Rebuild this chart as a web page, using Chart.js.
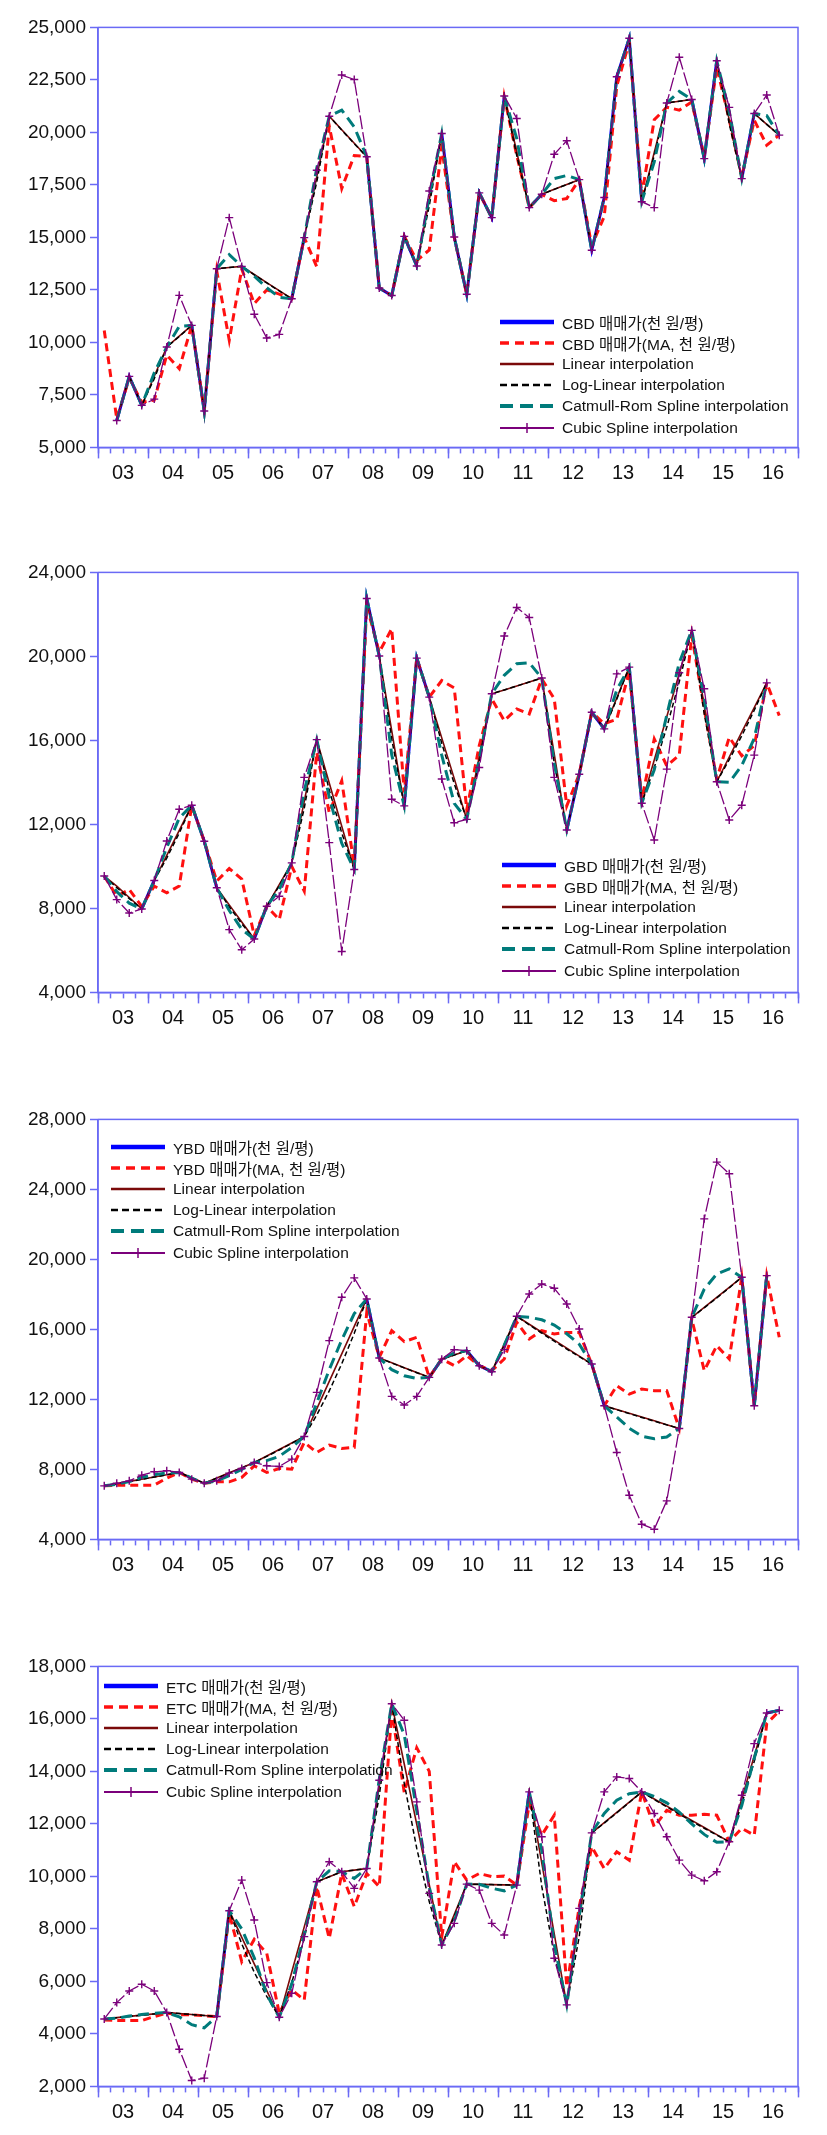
<!DOCTYPE html>
<html>
<head>
<meta charset="utf-8">
<script src="https://cdn.jsdelivr.net/npm/chart.js@4.4.1/dist/chart.umd.min.js"></script>
<style>
  body { margin: 0; background: #fff; width: 827px; height: 2135px; position: relative; overflow: hidden;
         font-family: "Liberation Sans", Arial, "Noto Sans CJK KR", sans-serif; }
  .panel { position: absolute; left: 0; width: 827px; height: 475px; }
  .legend { position: absolute; font-size: 15.5px; color: #111; }
  .legend .row { display: flex; align-items: center; height: 21.2px; white-space: nowrap; }
  .legend svg { margin-right: 8px; flex: none; }
</style>
</head>
<body>
<script>
const YEAR_LABELS = ['03', '04', '05', '06', '07', '08', '09', '10', '11', '12', '13', '14', '15', '16'];
const N_QUARTERS = 56; // 2003Q1 .. 2016Q4

// ---- CBD ----
const cbdActual = [
  null, 6280, 8380, 7000, null, 9780, null, 10810,
  6730, 13510, null, 13620, null, null, null, 12080,
  14990, null, 20770, null, null, 18840, 12590, 12230,
  15050, 13640, null, 19950, 15020, 12290, 17120, 15940,
  21730, null, 16420, 17055, null, null, 17750, 14390,
  16900, 22650, 24480, 16700, null, 21400, null, 21570,
  18750, 23410, null, 17800, 20900, null, 19870, null
];
const cbdMA = [
  10570, 6360, 8300, 7150, 7250, 9400, 8750, 10800,
  6750, 13400, 10100, 13500, 11850, 12500, 12300, 12080,
  15000, 13600, 20300, 17330, 18900, 18850, 12600, 12230,
  15050, 13900, 14400, 19300, 15000, 12290, 17120, 15940,
  21700, 18900, 16420, 17050, 16750, 16850, 17750, 14600,
  16000, 22200, 24300, 17000, 20600, 21200, 21060, 21450,
  18840, 23100, 20600, 17880, 20580, 19390, 19870, null
];
const cbdLinear = [
  null, 6280, 8380, 7000, 8390, 9780, 10300, 10810,
  6730, 13510, 13570, 13620, 13235, 12850, 12465, 12080,
  14990, 17880, 20770, 20125, 19480, 18840, 12590, 12230,
  15050, 13640, 16790, 19950, 15020, 12290, 17120, 15940,
  21730, 19070, 16420, 17055, 17290, 17520, 17750, 14390,
  16900, 22650, 24480, 16700, 19050, 21400, 21480, 21570,
  18750, 23410, 20600, 17800, 20900, 20380, 19870, null
];
const cbdLogLinear = [
  null, 6280, 8380, 7000, 8270, 9780, 10280, 10810,
  6730, 13510, 13565, 13620, 13220, 12830, 12450, 12080,
  14990, 17640, 20770, 20110, 19460, 18840, 12590, 12230,
  15050, 13640, 16500, 19950, 15020, 12290, 17120, 15940,
  21730, 18890, 16420, 17055, 17285, 17515, 17750, 14390,
  16900, 22650, 24480, 16700, 18900, 21400, 21485, 21570,
  18750, 23410, 20410, 17800, 20900, 20380, 19870, null
];
const cbdCatmull = [
  null, 6280, 8380, 7000, 8550, 9780, 10760, 10810,
  6730, 13510, 14180, 13620, 13150, 12600, 12150, 12080,
  14990, 18300, 20770, 21060, 20260, 18840, 12590, 12230,
  15050, 13640, 16950, 19950, 15020, 12290, 17120, 15940,
  21730, 19700, 16420, 17055, 17800, 17950, 17750, 14390,
  16900, 22650, 24480, 16700, 18600, 21400, 21950, 21570,
  18750, 23410, 21000, 17800, 20900, 20800, 19870, null
];
const cbdCubic = [
  null, 6280, 8380, 7000, 7300, 9780, 12240, 10810,
  6730, 13510, 15940, 13620, 11340, 10210, 10380, 12080,
  14990, 18200, 20770, 22730, 22520, 18840, 12590, 12230,
  15050, 13640, 17210, 19950, 15020, 12290, 17120, 15940,
  21730, 20660, 16420, 17055, 18960, 19600, 17750, 14390,
  16900, 22650, 24480, 16700, 16420, 21400, 23580, 21570,
  18750, 23410, 21190, 17800, 20900, 21780, 19870, null
];

// ---- GBD ----
const gbdActual = [
  9540, null, null, 7975, 9330, null, null, 12910,
  11200, 8980, null, null, 6540, 8100, null, 10170,
  null, 16035, null, null, 9854, 22760, 20020, null,
  12880, 19920, 18060, null, null, 12240, null, 18220,
  null, null, null, 18970, null, 11730, 14390, 17340,
  16550, null, 19490, 13010, null, null, null, 21240,
  null, 14030, null, null, null, 18740, null, null
];
const gbdMA = [
  9540, 8580, 8900, 8100, 9060, 8740, 9060, 12900,
  11200, 9300, 9900, 9400, 6700, 8100, 7470, 10000,
  8820, 15430, 12560, 14080, 10000, 22400, 20200, 21320,
  13520, 19920, 18060, 18850, 18500, 12700, 15750, 17980,
  16940, 17500, 17260, 18930, 17980, 12880, 14390, 17340,
  16800, 17000, 19300, 13200, 16070, 14790, 15300, 21000,
  17500, 14150, 16150, 15270, 15750, 18740, 17180, null
];
const gbdLinear = [
  9540, 9062, 8518, 7975, 9330, 10524, 11718, 12910,
  11200, 8980, 8167, 7354, 6540, 8100, 9135, 10170,
  13100, 16035, 13975, 11915, 9854, 22760, 20020, 16450,
  12880, 19920, 18060, 16120, 14180, 12240, 15230, 18220,
  18400, 18590, 18780, 18970, 15350, 11730, 14390, 17340,
  16550, 18020, 19490, 13010, 15070, 17130, 19190, 21240,
  17640, 14030, 15210, 16390, 17560, 18740, null, null
];
const gbdLogLinear = [
  9540, 8987, 8466, 7975, 9330, 10396, 11585, 12910,
  11200, 8980, 8079, 7269, 6540, 8100, 9076, 10170,
  12770, 16035, 13635, 11594, 9854, 22760, 20020, 16058,
  12880, 19920, 18060, 15864, 13935, 12240, 14934, 18220,
  18404, 18590, 18778, 18970, 14917, 11730, 14390, 17340,
  16550, 17960, 19490, 13010, 14706, 16623, 18791, 21240,
  17263, 14030, 15084, 16217, 17435, 18740, null, null
];
const gbdCatmull = [
  9540, 8800, 8250, 7975, 9330, 10900, 12300, 12910,
  11200, 8980, 7900, 7000, 6540, 8100, 8900, 10170,
  13600, 16035, 13300, 11100, 9854, 22760, 20020, 15300,
  12880, 19920, 18060, 15300, 13000, 12240, 15100, 18220,
  19100, 19650, 19700, 18970, 14900, 11730, 14390, 17340,
  16550, 18400, 19490, 13010, 14600, 17200, 19700, 21240,
  18000, 14030, 14000, 14800, 16100, 18740, null, null
];
const gbdCubic = [
  9540, 8420, 7780, 7975, 9330, 11210, 12720, 12910,
  11200, 8980, 6990, 6030, 6540, 8100, 8580, 10170,
  14240, 16035, 11130, 5950, 9854, 22760, 20020, 13200,
  12880, 19920, 18060, 14160, 12080, 12240, 14710, 18220,
  20970, 22330, 21850, 18970, 14240, 11730, 14390, 17340,
  16550, 19170, 19490, 13010, 11260, 14630, 19220, 21240,
  18460, 14030, 12210, 12910, 15300, 18740, null, null
];

// ---- YBD ----
const ybdActual = [
  7060, null, null, null, null, null, 7824, null,
  7213, null, null, null, 8396, null, null, null,
  9883, null, null, null, null, 17740, 14365, null,
  null, null, 13259, 14300, null, 14785, 13926, 13583,
  null, 16749, null, null, null, null, null, 14022,
  11638, null, null, null, null, null, 10341, 16691,
  null, null, null, 18980, 11638, 19075, null, null
];
const ybdMA = [
  7060, 7100, 7100, 7100, 7100, 7500, 7824, 7443,
  7213, 7290, 7290, 7540, 8206, 7824, 8053, 8015,
  9540, 8968, 9388, 9197, 9255, 16980, 14400, 15930,
  15300, 15550, 13260, 14310, 13930, 14500, 13930, 13640,
  14310, 16410, 15450, 15930, 15740, 15830, 15830, 14020,
  11640, 12780, 12300, 12590, 12500, 12500, 10340, 16600,
  13640, 15070, 14310, 18980, 11640, 19075, 15550, null
];
const ybdLinear = [
  7060, 7187, 7315, 7442, 7569, 7697, 7824, 7518,
  7213, 7509, 7805, 8100, 8396, 8768, 9140, 9511,
  9883, 11454, 13026, 14597, 16169, 17740, 14365, 14089,
  13812, 13536, 13259, 14300, 14540, 14785, 13926, 13583,
  15166, 16749, 16294, 15840, 15386, 14931, 14477, 14022,
  11638, 11422, 11206, 10990, 10774, 10557, 10341, 16691,
  17263, 17835, 18408, 18980, 11638, 19075, null, null
];
const ybdLogLinear = [
  7060, 7182, 7306, 7432, 7560, 7691, 7824, 7512,
  7213, 7492, 7782, 8083, 8396, 8745, 9109, 9488,
  9883, 11109, 12486, 14035, 15776, 17740, 14365, 14080,
  13801, 13527, 13259, 14300, 14541, 14785, 13926, 13583,
  15083, 16749, 16260, 15785, 15324, 14876, 14442, 14022,
  11638, 11411, 11188, 10970, 10756, 10546, 10341, 16691,
  17235, 17797, 18377, 18980, 11638, 19075, null, null
];
const ybdCatmull = [
  7060, 7150, 7300, 7550, 7700, 7800, 7824, 7500,
  7213, 7350, 7650, 8000, 8396, 8500, 8750, 9250,
  9883, 11800, 13700, 15400, 16900, 17740, 14365, 13700,
  13350, 13200, 13259, 14300, 14650, 14785, 13926, 13583,
  15100, 16749, 16700, 16550, 16250, 15750, 15150, 14022,
  11638, 11000, 10350, 9900, 9750, 9850, 10341, 16691,
  18300, 19170, 19457, 18980, 11638, 19075, null, null
];
const ybdCubic = [
  7060, 7210, 7346, 7672, 7862, 7920, 7824, 7443,
  7213, 7350, 7790, 8050, 8396, 8206, 8167, 8587,
  9883, 12401, 15357, 17836, 18942, 17740, 14365, 12172,
  11676, 12172, 13259, 14300, 14840, 14785, 13926, 13583,
  14842, 16749, 18027, 18598, 18350, 17454, 16024, 14022,
  11638, 8968, 6527, 4868, 4582, 6203, 10341, 16691,
  22317, 25559, 24892, 18980, 11638, 19075, null, null
];

// ---- ETC ----
const etcActual = [
  4570, null, null, null, null, 4813, null, null,
  null, 4661, 8693, null, null, null, 4636, null,
  null, 9796, null, 10177, null, 10303, null, 16580,
  null, null, null, 7387, null, 9707, null, null,
  null, 9669, 13220, null, null, 5104, null, 11660,
  null, null, null, 13220, null, null, null, null,
  null, null, 11318, null, null, 16225, 16326, null
];
const etcMA = [
  4530, 4510, 4510, 4510, 4660, 4790, 4725, 4725,
  4690, 4661, 8590, 6750, 7600, 7070, 4790, 5680,
  5290, 9610, 7640, 10110, 8850, 10110, 9610, 16300,
  13200, 14900, 14000, 7700, 10560, 9860, 10110, 9990,
  10010, 9670, 12780, 11570, 12330, 5800, 8850, 11130,
  10300, 10940, 10620, 13220, 11890, 12520, 12330, 12330,
  12370, 12330, 11320, 11830, 11570, 15820, 16300, null
];
const etcLinear = [
  4570, 4619, 4667, 4716, 4764, 4813, 4775, 4737,
  4699, 4661, 8693, 7679, 6665, 5650, 4636, 6356,
  8076, 9796, 9987, 10177, 10240, 10303, 13441, 16580,
  14282, 11984, 9685, 7387, 8547, 9707, 9697, 9688,
  9678, 9669, 13220, 10515, 7810, 5104, 8382, 11660,
  12050, 12440, 12830, 13220, 12948, 12677, 12405, 12133,
  11861, 11590, 11318, 12954, 14590, 16225, 16326, null
];
const etcLogLinear = [
  4570, 4617, 4664, 4713, 4762, 4813, 4774, 4736,
  4698, 4661, 8693, 7429, 6349, 5426, 4636, 5950,
  7636, 9796, 9985, 10177, 10240, 10303, 13070, 16580,
  13546, 11067, 9042, 7387, 8468, 9707, 9697, 9688,
  9678, 9669, 13220, 9627, 7010, 5104, 7714, 11660,
  12030, 12420, 12815, 13220, 12930, 12650, 12370, 12100,
  11835, 11575, 11318, 12760, 14380, 16225, 16326, null
];
const etcCatmull = [
  4570, 4600, 4680, 4740, 4790, 4813, 4650, 4350,
  4230, 4661, 8693, 8000, 6900, 5500, 4636, 5900,
  7800, 9796, 10214, 10177, 9923, 10303, 13700, 16580,
  15400, 12500, 9600, 7387, 8300, 9707, 9700, 9550,
  9450, 9669, 13220, 11000, 7400, 5104, 8500, 11660,
  12400, 12900, 13150, 13220, 13050, 12800, 12450, 12000,
  11600, 11300, 11318, 12700, 14500, 16225, 16326, null
];
const etcCubic = [
  4570, 5193, 5637, 5891, 5637, 4813, 3418, 2226,
  2315, 4661, 8693, 9859, 8338, 5954, 4636, 5548,
  7704, 9796, 10557, 10177, 9543, 10303, 13663, 16580,
  15946, 12839, 9352, 7387, 8211, 9707, 9479, 8211,
  7768, 9669, 13220, 11508, 6880, 5104, 8782, 11660,
  13220, 13790, 13727, 13220, 12396, 11508, 10620, 10050,
  9834, 10177, 11318, 13093, 15058, 16225, 16326, null
];

const FRAME = '#6a6af5';
const TEXT = '#111';
const PLOT_H = 420;
Chart.defaults.font.family = '"Liberation Sans", Arial, sans-serif';

// drawing styles for the six series, bottom to top
const STYLES = [
  { color: '#0000ff', width: 3, dash: [], lw: 4.5, ld: null },
  { color: '#ff1010', width: 3, dash: [8, 5], lw: 3.5, ld: [9, 6] },
  { color: '#7a0a0a', width: 1.6, dash: [], lw: 2.5, ld: null },
  { color: '#000000', width: 1.5, dash: [5, 3], lw: 2.5, ld: [7, 4] },
  { color: '#007b7b', width: 3, dash: [11, 6], lw: 4, ld: [13, 7] },
  { color: '#7b007b', width: 1.3, dash: [14, 3], lw: 2, ld: null, marker: true }
];

function seriesNames(code) {
  return [code + ' 매매가(천 원/평)', code + ' 매매가(MA, 천 원/평)', 'Linear interpolation',
          'Log-Linear interpolation', 'Catmull-Rom Spline interpolation', 'Cubic Spline interpolation'];
}

const PANELS = [
  { code: 'CBD', plotTop: 27, min: 5000, max: 25000, step: 2500,
    series: [cbdActual, cbdMA, cbdLinear, cbdLogLinear, cbdCatmull, cbdCubic], legend: [500, 311] },
  { code: 'GBD', plotTop: 572, min: 4000, max: 24000, step: 4000,
    series: [gbdActual, gbdMA, gbdLinear, gbdLogLinear, gbdCatmull, gbdCubic], legend: [502, 854] },
  { code: 'YBD', plotTop: 1119, min: 4000, max: 28000, step: 4000,
    series: [ybdActual, ybdMA, ybdLinear, ybdLogLinear, ybdCatmull, ybdCubic], legend: [111, 1136] },
  { code: 'ETC', plotTop: 1666, min: 2000, max: 18000, step: 2000,
    series: [etcActual, etcMA, etcLinear, etcLogLinear, etcCatmull, etcCubic], legend: [104, 1675] }
];

const framePlugin = {
  id: 'frame',
  afterDraw(chart) {
    const { ctx, chartArea: a, scales: { x } } = chart;
    ctx.save();
    ctx.strokeStyle = FRAME;
    ctx.lineWidth = 1.5;
    ctx.strokeRect(a.left, a.top, a.right - a.left, a.bottom - a.top);
    // longer ticks at year boundaries
    for (let q = 0; q <= N_QUARTERS; q += 4) {
      const px = Math.round(x.getPixelForValue(q)) + 0.5;
      ctx.beginPath();
      ctx.moveTo(px, a.bottom);
      ctx.lineTo(px, a.bottom + 11);
      ctx.stroke();
    }
    ctx.restore();
  }
};

function legendSample(st) {
  let s = '<svg width="54" height="12">';
  s += '<line x1="0" y1="6" x2="54" y2="6" stroke="' + st.color + '" stroke-width="' + st.lw + '"' +
       (st.ld ? ' stroke-dasharray="' + st.ld.join(' ') + '"' : '') + '/>';
  if (st.marker) s += '<line x1="27" y1="1" x2="27" y2="11" stroke="' + st.color + '" stroke-width="1.5"/>';
  return s + '</svg>';
}

PANELS.forEach(p => {
  const wrap = document.createElement('div');
  wrap.className = 'panel';
  wrap.style.top = (p.plotTop - 10) + 'px';
  const canvas = document.createElement('canvas');
  wrap.appendChild(canvas);
  document.body.appendChild(wrap);

  const names = seriesNames(p.code);
  const datasets = p.series.map((vals, k) => {
    const st = STYLES[k];
    return {
      label: names[k],
      data: vals.map((v, i) => ({ x: i + 0.5, y: v })),
      borderColor: st.color,
      backgroundColor: st.color,
      borderWidth: st.width,
      borderDash: st.dash,
      pointStyle: 'cross',
      pointRadius: st.marker ? 4 : 0,
      pointBorderWidth: 1.4,
      pointBorderColor: st.color,
      tension: 0,
      spanGaps: false,
      order: 6 - k
    };
  });

  const chart = new Chart(canvas, {
    type: 'line',
    data: { datasets },
    options: {
      responsive: true,
      maintainAspectRatio: false,
      animation: false,
      devicePixelRatio: 1,
      layout: { padding: { top: 10, right: 29, bottom: 0, left: 0 } },
      plugins: { legend: { display: false }, tooltip: { enabled: false } },
      scales: {
        x: {
          type: 'linear', min: 0, max: N_QUARTERS,
          afterFit: s => { s.height = 45; },
          afterBuildTicks: s => { s.ticks = Array.from({ length: N_QUARTERS + 1 }, (_, i) => ({ value: i })); },
          border: { display: true, color: FRAME, width: 1.5 },
          grid: { drawOnChartArea: false, drawTicks: true, tickLength: 6, tickColor: FRAME, tickWidth: 1.5 },
          ticks: {
            autoSkip: false, maxRotation: 0, padding: 8, color: TEXT,
            font: { size: 20 },
            callback: v => (v % 4 === 2 ? YEAR_LABELS[(v - 2) / 4] : '')
          }
        },
        y: {
          min: p.min, max: p.max,
          afterFit: s => { s.width = 98; },
          border: { display: true, color: FRAME, width: 1.5 },
          grid: { drawOnChartArea: false, drawTicks: true, tickLength: 8, tickColor: FRAME, tickWidth: 1.5 },
          ticks: {
            stepSize: p.step, padding: 4, color: TEXT,
            font: { size: 19 },
            callback: v => v.toLocaleString('en-US')
          }
        }
      }
    },
    plugins: [framePlugin]
  });

  // pin the plot box to the reference position and height
  let a = chart.chartArea;
  const dh = PLOT_H - (a.bottom - a.top);
  if (Math.abs(dh) > 0.5) {
    wrap.style.height = (475 + dh) + 'px';
    chart.resize();
    a = chart.chartArea;
  }
  wrap.style.top = (p.plotTop - a.top) + 'px';

  const lg = document.createElement('div');
  lg.className = 'legend';
  lg.style.left = p.legend[0] + 'px';
  lg.style.top = p.legend[1] + 'px';
  lg.innerHTML = names.map((n, k) =>
    '<div class="row">' + legendSample(STYLES[k]) + '<span>' + n + '</span></div>').join('');
  document.body.appendChild(lg);
});
</script>
</body>
</html>
